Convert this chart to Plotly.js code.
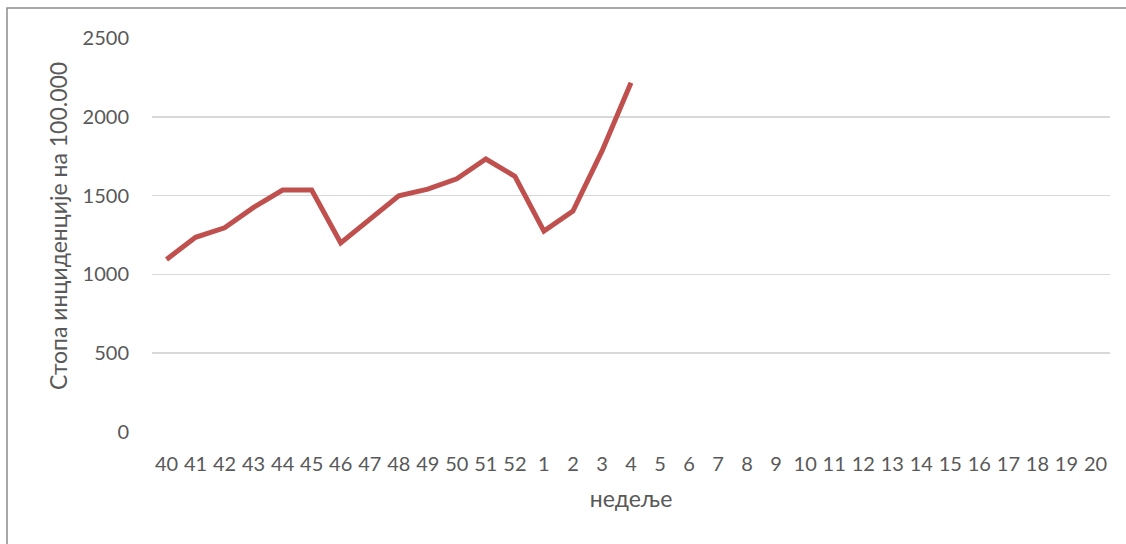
<!DOCTYPE html>
<html>
<head>
<meta charset="utf-8">
<script src="https://cdn.plot.ly/plotly-3.0.1.min.js"></script>
<style>
html,body{margin:0;padding:0;background:#fff;}
#chart{width:1126px;height:544px;}
</style>
</head>
<body>
<div id="chart"></div>
<script>
// Categories (weeks)
const weeks = ['40','41','42','43','44','45','46','47','48','49','50','51','52',
  '1','2','3','4','5','6','7','8','9','10','11','12','13','14','15','16','17','18','19','20'];
// Weeks with data
const dataWeeks = ['40','41','42','43','44','45','46','47','48','49','50','51','52','1','2','3','4'];
// Incidence rate per 100,000
const rates = [1095,1235,1296,1425,1535,1535,1200,1351,1499,1541,1607,1732,1622,1275,1402,1782,2216];
const yTicks = [0,500,1000,1500,2000,2500];

const FONT = 'Lato, "Open Sans", sans-serif';
const TXT = '#595959';

const L = 152, R = 1110, T = 38, B = 432;
const W = R - L, H = B - T;
const px = x => (x - L) / W;
const py = y => (B - y) / H;

const trace = {
  type: 'scatter',
  mode: 'lines',
  x: dataWeeks,
  y: rates,
  line: {color: '#C0504D', width: 5},
  hoverinfo: 'x+y'
};

const layout = {
  width: 1126, height: 544,
  margin: {l: L, r: 1126 - R, t: T, b: 544 - B, pad: 0},
  paper_bgcolor: '#fff',
  plot_bgcolor: '#fff',
  showlegend: false,
  font: {family: FONT, color: TXT, size: 20},
  xaxis: {
    type: 'category',
    categoryorder: 'array',
    categoryarray: weeks,
    tickvals: weeks,
    ticktext: weeks,
    range: [-0.5, weeks.length - 0.5],
    showgrid: false,
    zeroline: false,
    showline: false,
    ticks: '',
    ticklabelstandoff: 18,
    tickfont: {family: FONT, size: 20, color: TXT},
    title: {text: 'недеље', font: {family: FONT, size: 23, color: TXT}, standoff: 16}
  },
  yaxis: {
    range: [0, 2500],
    tickvals: yTicks,
    ticktext: yTicks.map(String),
    showgrid: true,
    gridcolor: '#D9D9D9',
    gridwidth: 1.5,
    zeroline: false,
    showline: false,
    ticks: '',
    ticklabelstandoff: 22,
    tickfont: {family: FONT, size: 20, color: TXT}
  },
  annotations: [{
    text: 'Стопа инциденције на 100.000',
    xref: 'paper', yref: 'paper',
    x: px(58), y: py(226),
    xanchor: 'center', yanchor: 'middle',
    textangle: -90,
    showarrow: false,
    font: {family: FONT, size: 23, color: TXT}
  }],
  shapes: [{
    type: 'rect', xref: 'paper', yref: 'paper',
    x0: px(7), x1: px(1140), y0: py(560), y1: py(8),
    line: {color: '#8C8C8C', width: 1.5},
    fillcolor: 'rgba(0,0,0,0)',
    layer: 'below'
  }]
};

Plotly.newPlot('chart', [trace], layout, {displayModeBar: false, staticPlot: true});
</script>
</body>
</html>
